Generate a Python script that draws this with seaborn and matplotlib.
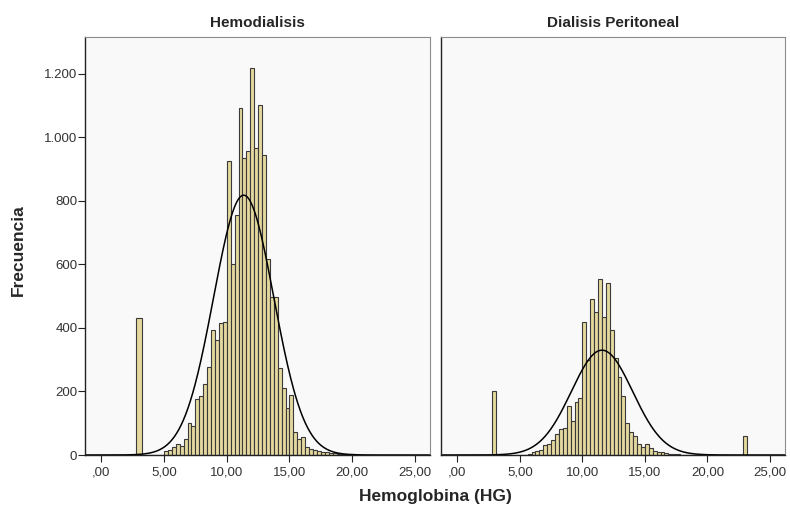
import numpy as np
import pandas as pd
import matplotlib
matplotlib.use("Agg")
import matplotlib.pyplot as plt
from matplotlib.ticker import FuncFormatter, FixedLocator
import seaborn as sns

# ---------------- data ----------------
panels = ["Hemodialisis", "Dialisis Peritoneal"]
bin_width = 0.3125
main_start = 5.0  # first edge of the main body of bins

# counts per bin, main body starting at 5.0 (width 0.3125)
hemo_counts = [13, 17, 25, 36, 27, 51, 102, 91, 177, 186, 225, 278, 393, 363, 416, 420,
               925, 601, 756, 1091, 934, 957, 1218, 967, 1102, 946, 617, 496, 496,
               275, 212, 149, 188, 73, 50, 57, 25, 19, 15, 12, 10, 8, 6, 5, 4, 3, 3, 2, 2, 1]
perit_counts = [0, 0, 4, 10, 12, 16, 31, 36, 46, 67, 81, 84, 155, 107, 167, 179,
                420, 300, 490, 450, 555, 435, 540, 395,
                305, 246, 186, 102, 73, 60, 34, 25, 34, 22, 12, 8, 10, 5, 4, 2, 2]

# isolated outlier bars: (low edge, high edge, count)
hemo_outliers = [(2.75, 3.25, 430)]
perit_outliers = [(2.8125, 3.125, 200), (22.8125, 23.125, 61)]

# fitted normal curves as drawn in the reference (mean, sd, peak height)
curve_mean = [11.35, 11.57]
curve_sd = [2.40, 2.45]
curve_peak = [818, 330]

x_ticks = [0, 5, 10, 15, 20, 25]
y_ticks = [0, 200, 400, 600, 800, 1000, 1200]

# ---------------- style ----------------
sns.set_style("white")
plt.rcParams["font.family"] = ["Liberation Sans", "DejaVu Sans"]

bar_face = "#e5d89e"
bar_edge = "#3a3a3a"
panel_bg = "#f9f9f9"

fig = plt.figure(figsize=(7.9, 5.08), dpi=100)
fig.patch.set_facecolor("white")
ax_l = fig.add_axes([85 / 790, 1 - 455 / 508, 345 / 790, 418 / 508])
ax_r = fig.add_axes([441 / 790, 1 - 455 / 508, 344 / 790, 418 / 508])


def build(counts, outliers):
    centers, weights, edges = [], [], []
    for lo, hi, c in outliers:
        if lo < main_start:
            edges += [lo, hi]
            centers.append((lo + hi) / 2)
            weights.append(c)
    n = len(counts)
    main_edges = main_start + bin_width * np.arange(n + 1)
    edges += [float(e) for e in main_edges]
    centers += [float(c) for c in (main_edges[:-1] + main_edges[1:]) / 2]
    weights += list(counts)
    for lo, hi, c in outliers:
        if lo >= main_start:
            edges += [lo, hi]
            centers.append((lo + hi) / 2)
            weights.append(c)
    return pd.DataFrame({"hb": centers, "n": weights}), [float(e) for e in edges]


def x_fmt(v, _):
    s = f"{v:.2f}".replace(".", ",")
    if s.startswith("0,"):
        s = s[1:]
    return s


def y_fmt(v, _):
    return f"{int(v):,}".replace(",", ".")


setups = [(ax_l, hemo_counts, hemo_outliers, panels[0], 0),
          (ax_r, perit_counts, perit_outliers, panels[1], 1)]
for ax, counts, outl, title, i in setups:
    df, edges = build(counts, outl)
    sns.histplot(data=df, x="hb", weights="n", bins=edges, stat="count",
                 color=bar_face, edgecolor=bar_edge, linewidth=0.8, alpha=1.0,
                 ax=ax)
    xs = np.linspace(-1.3, 26.2, 600)
    ys = curve_peak[i] * np.exp(-0.5 * ((xs - curve_mean[i]) / curve_sd[i]) ** 2)
    sns.lineplot(x=xs, y=ys, color="black", linewidth=1.1, ax=ax)

    ax.set_facecolor(panel_bg)
    ax.set_xlim(-1.3, 26.2)
    ax.set_ylim(0, 1316)
    ax.xaxis.set_major_locator(FixedLocator(x_ticks))
    ax.xaxis.set_major_formatter(FuncFormatter(x_fmt))
    ax.set_xlabel("")
    ax.set_ylabel("")
    ax.set_title(title, fontsize=11, fontweight="bold", pad=7)
    for sp in ["top", "right"]:
        ax.spines[sp].set_color("#8c8c8c")
        ax.spines[sp].set_linewidth(0.8)
    ax.spines["bottom"].set_color("#222222")
    ax.spines["bottom"].set_linewidth(1.0)
    ax.tick_params(axis="x", direction="out", length=5, width=0.8, color="#222222",
                   labelsize=9.5, labelcolor="#333333", pad=3, bottom=True)

ax_l.spines["left"].set_color("#222222")
ax_l.spines["left"].set_linewidth(1.0)
ax_l.yaxis.set_major_locator(FixedLocator(y_ticks))
ax_l.yaxis.set_major_formatter(FuncFormatter(y_fmt))
ax_l.tick_params(axis="y", direction="out", length=5, width=0.8, color="#222222",
                 labelsize=9.5, labelcolor="#333333", pad=0.5, left=True)
ax_r.spines["left"].set_color("#222222")
ax_r.spines["left"].set_linewidth(1.0)
ax_r.tick_params(axis="y", left=False, labelleft=False)

fig.text(435 / 790, 1 - 497 / 508, "Hemoglobina (HG)", ha="center", va="center",
         fontsize=12.5, fontweight="bold")
fig.text(18 / 790, 1 - 250 / 508, "Frecuencia", ha="center", va="center",
         rotation=90, fontsize=12.5, fontweight="bold")

fig.savefig("out.png", dpi=100, facecolor="white")
